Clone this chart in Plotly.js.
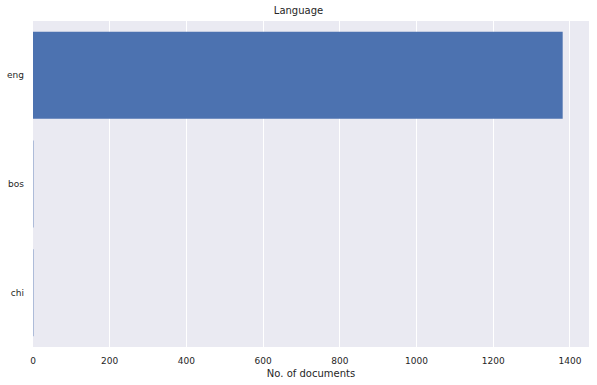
<!DOCTYPE html>
<html><head><meta charset="utf-8">
<script src="https://cdn.plot.ly/plotly-3.0.1.min.js"></script>
<style>html,body{margin:0;padding:0;background:#fff}</style>
</head><body><div id="chart" style="width:597px;height:385px"></div>
<script>
const languages = ["eng", "bos", "chi"];
const docCounts = [1381, 1, 1];
const xTicks = [0, 200, 400, 600, 800, 1000, 1200, 1400];

Plotly.newPlot("chart", [{
  type: "bar",
  orientation: "h",
  y: languages,
  x: docCounts,
  width: 0.8,
  marker: {color: "#4C72B0", line: {width: 0}},
  hoverinfo: "x+y"
}], {
  width: 597, height: 385,
  margin: {l: 33, r: 8, t: 21, b: 38},
  paper_bgcolor: "#ffffff",
  plot_bgcolor: "#EAEAF2",
  font: {family: "DejaVu Sans, Arial, sans-serif", size: 9, color: "#262626"},
  title: {text: "Language", x: 0.5, xanchor: "center", y: 1, yref: "container", yanchor: "top", pad: {t: 7}, font: {size: 10, color: "#262626"}},
  showlegend: false,
  xaxis: {
    range: [0, 1449.6],
    tickvals: xTicks,
    ticktext: xTicks.map(String),
    showgrid: true, gridcolor: "#ffffff", gridwidth: 1,
    zeroline: false, showline: false, ticks: "",
    ticklabelstandoff: 7,
    title: {text: "No. of documents", font: {size: 10, color: "#262626"}, standoff: 4},
    tickfont: {size: 9}
  },
  yaxis: {
    type: "category",
    categoryorder: "array",
    categoryarray: languages,
    range: [2.5, -0.5],
    showgrid: false, zeroline: false, showline: false, ticks: "",
    ticklabelstandoff: 8,
    tickfont: {size: 9}
  }
}, {displayModeBar: false, staticPlot: true});
</script></body></html>
